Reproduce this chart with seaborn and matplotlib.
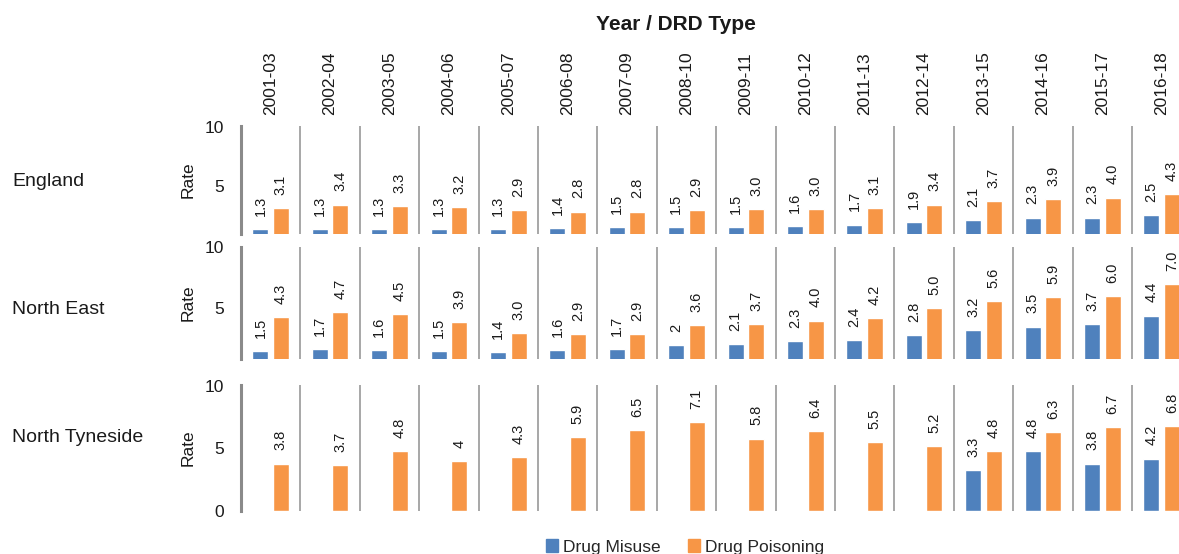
import pandas as pd
import matplotlib.pyplot as plt
import seaborn as sns
from matplotlib.patches import Patch

# Values (rates)
periods = ["2001-03", "2002-04", "2003-05", "2004-06", "2005-07", "2006-08",
           "2007-09", "2008-10", "2009-11", "2010-12", "2011-13", "2012-14",
           "2013-15", "2014-16", "2015-17", "2016-18"]
types = ["Drug Misuse", "Drug Poisoning"]
regions = ["England", "North East", "North Tyneside"]

england_misuse = [1.3, 1.3, 1.3, 1.3, 1.3, 1.4, 1.5, 1.5, 1.5, 1.6, 1.7, 1.9, 2.1, 2.3, 2.3, 2.5]
england_poisoning = [3.1, 3.4, 3.3, 3.2, 2.9, 2.8, 2.8, 2.9, 3.0, 3.0, 3.1, 3.4, 3.7, 3.9, 4.0, 4.3]
ne_misuse = [1.5, 1.7, 1.6, 1.5, 1.4, 1.6, 1.7, 2, 2.1, 2.3, 2.4, 2.8, 3.2, 3.5, 3.7, 4.4]
ne_poisoning = [4.3, 4.7, 4.5, 3.9, 3.0, 2.9, 2.9, 3.6, 3.7, 4.0, 4.2, 5.0, 5.6, 5.9, 6.0, 7.0]
nt_misuse = [None] * 12 + [3.3, 4.8, 3.8, 4.2]
nt_poisoning = [3.8, 3.7, 4.8, 4, 4.3, 5.9, 6.5, 7.1, 5.8, 6.4, 5.5, 5.2, 4.8, 6.3, 6.7, 6.8]

colors = {"Drug Misuse": "#4f81bd", "Drug Poisoning": "#f79646"}


def fmt(v):
    # the source shows whole numbers without decimals in a couple of places
    return str(v) if isinstance(v, int) else f"{v:.1f}"


rows = []
labels = {}
for region, mis, poi in zip(regions,
                            [england_misuse, ne_misuse, nt_misuse],
                            [england_poisoning, ne_poisoning, nt_poisoning]):
    for p, m, q in zip(periods, mis, poi):
        for t, v in zip(types, [m, q]):
            if v is None:
                continue
            rows.append((region, p, t, float(v)))
            labels[(region, p, t)] = fmt(v)
df = pd.DataFrame(rows, columns=["Region", "Period", "Type", "Rate"])

sns.set_style("white")
plt.rcParams["font.family"] = ["Liberation Sans", "DejaVu Sans"]

W, H = 1179, 554
fig = plt.figure(figsize=(W / 100, H / 100), dpi=100)

# pixel layout of each row: (top, bottom), y-limits, y ticks
layout = {
    "England": ((126, 234), (0.9, 10.08), [5, 10]),
    "North East": ((247, 359), (0.86, 10.0), [5, 10]),
    "North Tyneside": ((385, 511), (0.0, 10.08), [0, 5, 10]),
}
row_label_y = {"England": 182, "North East": 310, "North Tyneside": 438}

left_px, col_px = 241, 59.4
for region in regions:
    (top, bot), ylim, yticks = layout[region]
    ax = fig.add_axes([left_px / W, 1 - bot / H, col_px * 16 / W, (bot - top) / H])
    d = df[df["Region"] == region]
    sns.barplot(data=d, x="Period", y="Rate", hue="Type", order=periods,
                hue_order=types, palette=colors, width=0.69, gap=0.22,
                saturation=1, errorbar=None, legend=False, ax=ax)

    for ci, cont in enumerate(ax.containers):
        for bar in cont:
            xc = bar.get_x() + bar.get_width() / 2
            h = bar.get_height()
            p = periods[int(round(xc))]
            ax.annotate(labels[(region, p, types[ci])], (xc, h),
                        xytext=(0, 9.5), textcoords="offset points",
                        rotation=90, ha="center", va="bottom",
                        fontsize=10.5, color="#1a1a1a")

    for i in range(1, 16):
        ax.axvline(i - 0.5, color="#a0a0a0", lw=1.3, zorder=0)

    ax.set_yticks(yticks)
    ax.set_xlim(-0.5, 15.5)
    ax.set_ylim(*ylim)
    ax.tick_params(axis="y", length=0, pad=12, labelsize=12.5, colors="#1a1a1a")
    ax.set_ylabel("Rate", fontsize=12.5, labelpad=7, color="#1a1a1a")
    ax.set_xlabel("")
    for s in ["top", "right", "bottom"]:
        ax.spines[s].set_visible(False)
    ax.spines["left"].set_color("#8a8a8a")
    ax.spines["left"].set_linewidth(2.2)

    if region == "England":
        ax.xaxis.tick_top()
        ax.set_xticks(range(len(periods)), periods, rotation=90)
        ax.tick_params(axis="x", length=0, pad=8, labelsize=12.5, colors="#1a1a1a")
    else:
        ax.set_xticks([])
    ax.set_xlim(-0.5, 15.5)

    fig.text(12 / W, 1 - row_label_y[region] / H, region, fontsize=14,
             va="center", ha="left", color="#1a1a1a")

fig.text(676 / W, 1 - 25 / H, "Year / DRD Type", fontsize=15,
         fontweight="bold", ha="center", va="center", color="#1a1a1a")

handles = [Patch(color=colors[t]) for t in types]
fig.legend(handles, types, loc="center", bbox_to_anchor=(685 / W, 1 - 547 / H),
           ncol=2, frameon=False, fontsize=12.5, handlelength=0.7,
           handleheight=0.7, handletextpad=0.25, columnspacing=1.6)

fig.savefig("out.png", dpi=100)
